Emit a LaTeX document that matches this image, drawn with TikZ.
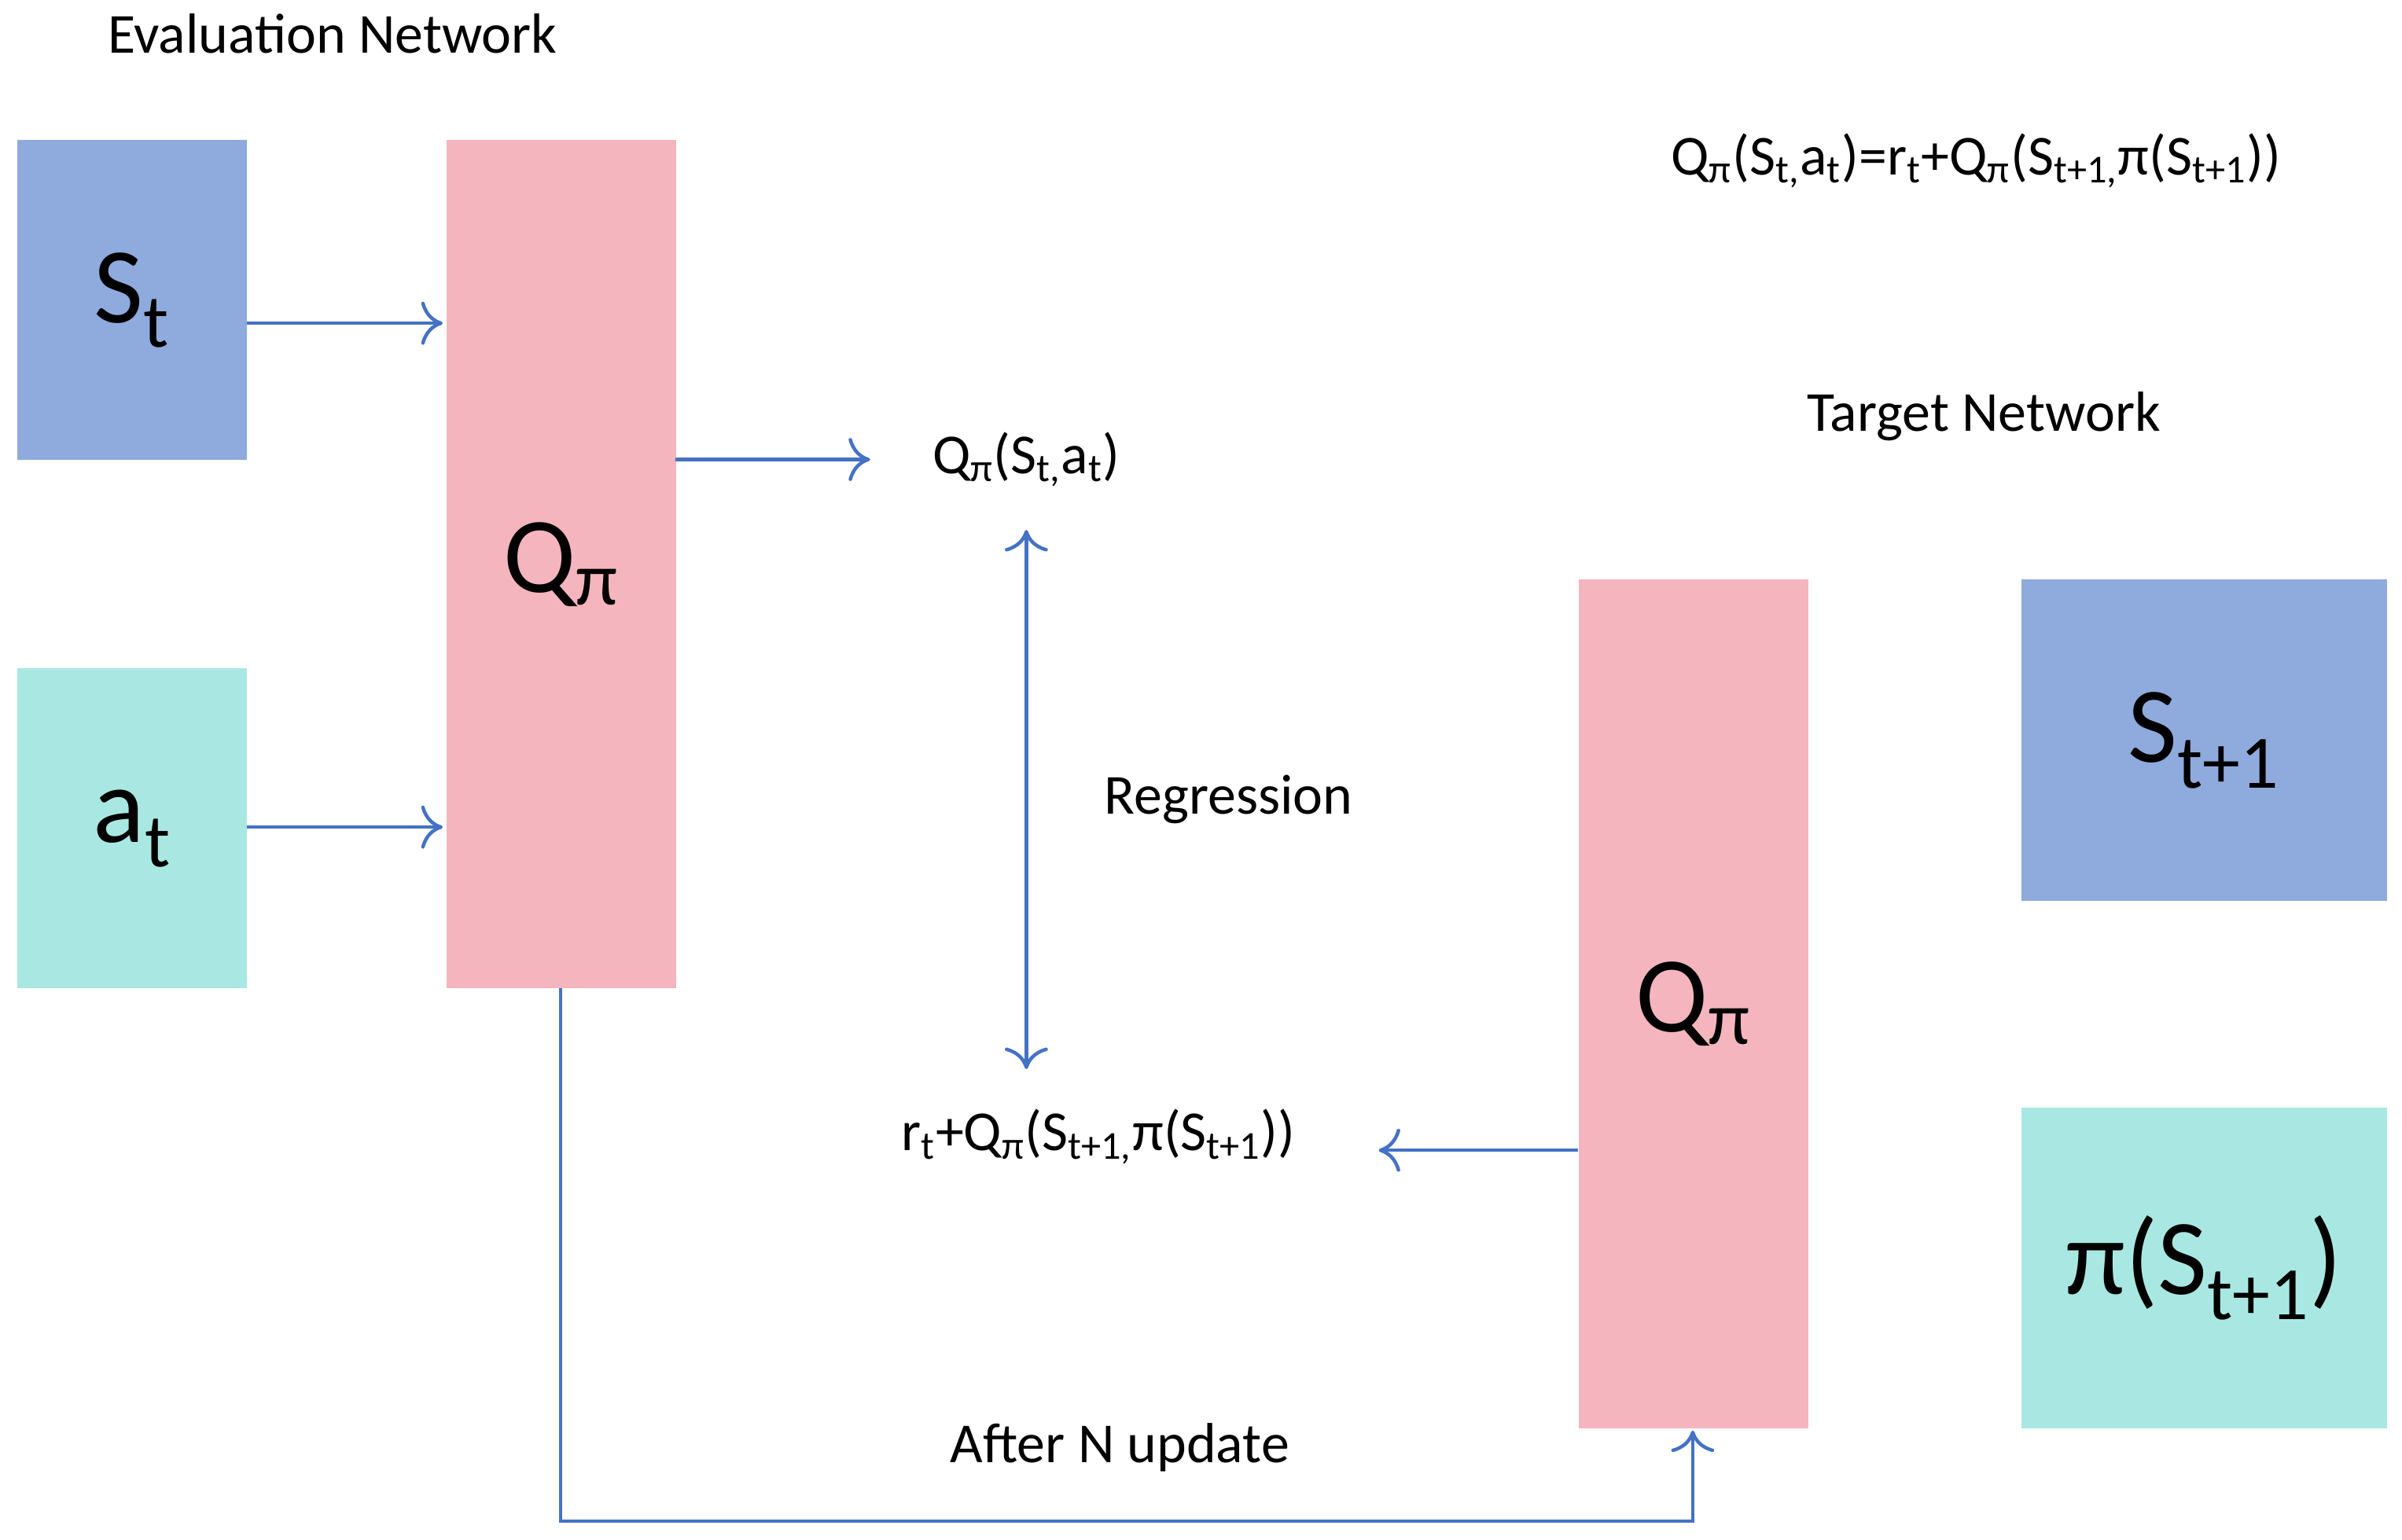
\documentclass[tikz,border=0pt]{standalone}
\usepackage{fontspec}
\setmainfont{Carlito}
\usetikzlibrary{arrows.meta}
\newcommand{\sbs}[1]{\textsubscript{#1}}
\definecolor{bl}{HTML}{8FAADC}
\definecolor{tq}{HTML}{A9E8E2}
\definecolor{pk}{HTML}{F4B5BE}
\definecolor{ln}{HTML}{4472C4}
\begin{document}
\begin{tikzpicture}[x=0.02cm,y=-0.02cm,
  box/.style={draw=none,inner sep=0,anchor=north west,font=\fontsize{40}{44}\selectfont},
  lbl/.style={font=\fontsize{21}{24}\selectfont,inner sep=0},
  arr/.style={draw=ln,line width=1.3pt,-{To[length=8pt,width=16pt,line width=1.3pt]}},
  darr/.style={draw=ln,line width=1.3pt,{To[length=8pt,width=16pt,line width=1.3pt]}-{To[length=8pt,width=16pt,line width=1.3pt]}}]
\useasboundingbox (0,0) rectangle (1568,1005);
\node[box,fill=bl,minimum width=150*0.02cm,minimum height=209*0.02cm] (st) at (11,91) {};
\node[font=\fontsize{40}{44}\selectfont] at (st.center) {S\sbs{t}};
\node[box,fill=tq,minimum width=150*0.02cm,minimum height=209*0.02cm] (at) at (11,436) {};
\node[font=\fontsize{40}{44}\selectfont] at (at.center) {a\sbs{t}};
\node[box,fill=pk,minimum width=150*0.02cm,minimum height=554*0.02cm] (qe) at (291,91) {};
\node[font=\fontsize{40}{44}\selectfont] at (qe.center) {Q\sbs{π}};
\node[box,fill=pk,minimum width=150*0.02cm,minimum height=554*0.02cm] (qt) at (1030,378) {};
\node[font=\fontsize{40}{44}\selectfont] at (qt.center) {Q\sbs{π}};
\node[box,fill=bl,minimum width=239*0.02cm,minimum height=210*0.02cm] (sn) at (1319,378) {};
\node[font=\fontsize{40}{44}\selectfont] at (sn.center) {S\sbs{t+1}};
\node[box,fill=tq,minimum width=239*0.02cm,minimum height=209*0.02cm] (pn) at (1319,723) {};
\node[font=\fontsize{40}{44}\selectfont] at (pn.center) {π(S\sbs{t+1})};

\node[lbl] (ev) at (217,22) {Evaluation Network};
\node[lbl] (tn) at (1295,272) {Target Network};
\node[lbl] (fm) at (1290,105) {Q\sbs{π}(S\sbs{t,}a\sbs{t})=r\sbs{t}+Q\sbs{π}(S\sbs{t+1,}π(S\sbs{t+1}))};
\node[lbl] (qv) at (670,300) {Q\sbs{π}(S\sbs{t,}a\sbs{t})};
\node[lbl] (rg) at (802,522) {Regression};
\node[lbl] (tg) at (717,742) {r\sbs{t}+Q\sbs{π}(S\sbs{t+1,}π(S\sbs{t+1}))};
\node[lbl] (an) at (731,945) {After N update};

\coordinate (a1) at (161,211); \coordinate (a2) at (289,211);
\draw[arr] (a1) -- (a2);
\coordinate (b1) at (161,540); \coordinate (b2) at (289,540);
\draw[arr] (b1) -- (b2);
\coordinate (c1) at (441,300); \coordinate (c2) at (568,300);
\draw[arr] (c1) -- (c2);
\coordinate (d1) at (670,346); \coordinate (d2) at (670,698);
\draw[darr] (d1) -- (d2);
\coordinate (e1) at (1030,751); \coordinate (e2) at (900,751);
\draw[arr] (e1) -- (e2);
\coordinate (f1) at (366,645); \coordinate (f2) at (366,993); \coordinate (f3) at (1105,993); \coordinate (f4) at (1105,934);
\draw[arr] (f1) -- (f2) -- (f3) -- (f4);
\end{tikzpicture}
\end{document}
